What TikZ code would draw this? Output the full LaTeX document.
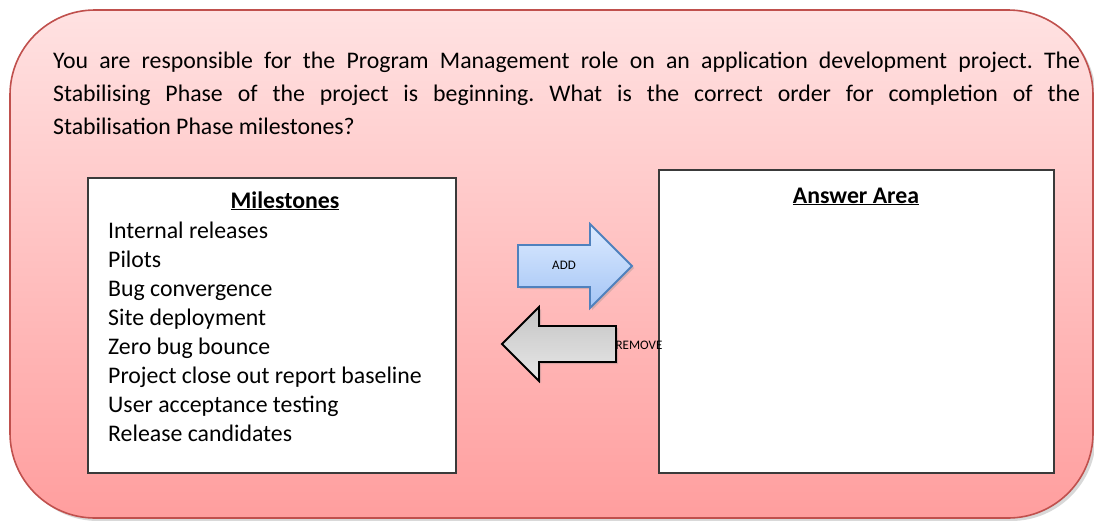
\documentclass[tikz,border=0pt]{standalone}
\usepackage{fontspec}
\setmainfont{Carlito}
\usetikzlibrary{shadows}
\definecolor{frameborder}{HTML}{C0504D}
\definecolor{frametop}{HTML}{FFE2E2}
\definecolor{framebot}{HTML}{FF9E9E}
\definecolor{addtop}{HTML}{DDEBFF}
\definecolor{addbot}{HTML}{A3C4F5}
\definecolor{addborder}{HTML}{4F81BD}
\definecolor{remtop}{HTML}{C4C4C4}
\definecolor{rembot}{HTML}{E8E8E8}
\definecolor{boxborder}{HTML}{3A3A3A}
\frenchspacing
\begin{document}
\begin{tikzpicture}[x=1pt,y=-1pt,
  bigtext/.style={font=\fontsize{23.8pt}{28pt}\selectfont, inner sep=0pt, text=black},
  smalltext/.style={font=\fontsize{13pt}{15pt}\selectfont, inner sep=0pt, text=black},
  whitebox/.style={draw=boxborder, line width=1.8pt, fill=white, inner sep=0pt,
    drop shadow={shadow xshift=1.5pt, shadow yshift=-1.5pt, opacity=0.25}},
  softshadow/.style={drop shadow={shadow xshift=3pt, shadow yshift=-3pt, opacity=0.3}}
]
\useasboundingbox (0,0) rectangle (1094,520);
\fill[white] (0,0) rectangle (1094,520);

% outer frame
\path[draw=frameborder, line width=1.6pt, top color=frametop, bottom color=framebot,
  rounded corners=85pt, softshadow] (10,10) rectangle (1093,518);

% question
\node[bigtext, anchor=base west] (q1) at (53,68)
  {\makebox[1027pt][s]{You are responsible for the Program Management role on an application development project. The}};
\node[bigtext, anchor=base west] (q2) at (53,101)
  {\makebox[1027pt][s]{Stabilising Phase of the project is beginning. What is the correct order for completion of the}};
\node[bigtext, anchor=base west] (q3) at (53,134) {Stabilisation Phase milestones?};

% boxes
\node[whitebox, minimum width=368pt, minimum height=295pt, anchor=north west] (milebox) at (87,177) {};
\node[whitebox, minimum width=395pt, minimum height=303pt, anchor=north west] (ansbox) at (658,169) {};

\node[bigtext, anchor=base] (milehead) at (285,208) {\textbf{\underline{Milestones}}};
\node[bigtext, anchor=base] (anshead) at (856,203) {\textbf{\underline{Answer Area}}};

\node[bigtext, anchor=base west] (m1) at (108,238) {Internal releases};
\node[bigtext, anchor=base west] (m2) at (108,267) {Pilots};
\node[bigtext, anchor=base west] (m3) at (108,296) {Bug convergence};
\node[bigtext, anchor=base west] (m4) at (108,325) {Site deployment};
\node[bigtext, anchor=base west] (m5) at (108,354) {Zero bug bounce};
\node[bigtext, anchor=base west] (m6) at (108,383) {Project close out report baseline};
\node[bigtext, anchor=base west] (m7) at (108,412) {User acceptance testing};
\node[bigtext, anchor=base west] (m8) at (108,441) {Release candidates};

% ADD arrow
\path[draw=addborder, line width=1.8pt, top color=addtop, bottom color=addbot, line join=miter,
  drop shadow={shadow xshift=2pt, shadow yshift=-2pt, opacity=0.3}]
  (518,245) -- (590,245) -- (590,224) -- (632,266) -- (590,308) -- (590,287) -- (518,287) -- cycle;
\node[smalltext] (addlbl) at (564,265) {ADD};

% REMOVE arrow
\path[draw=black, line width=1.8pt, top color=remtop, bottom color=rembot, line join=miter,
  drop shadow={shadow xshift=2pt, shadow yshift=-2pt, opacity=0.3}]
  (616,326) -- (539,326) -- (539,307) -- (502,344) -- (539,381) -- (539,362) -- (616,362) -- cycle;
\node[smalltext] (remlbl) at (639,345) {REMOVE};
\end{tikzpicture}
\end{document}
